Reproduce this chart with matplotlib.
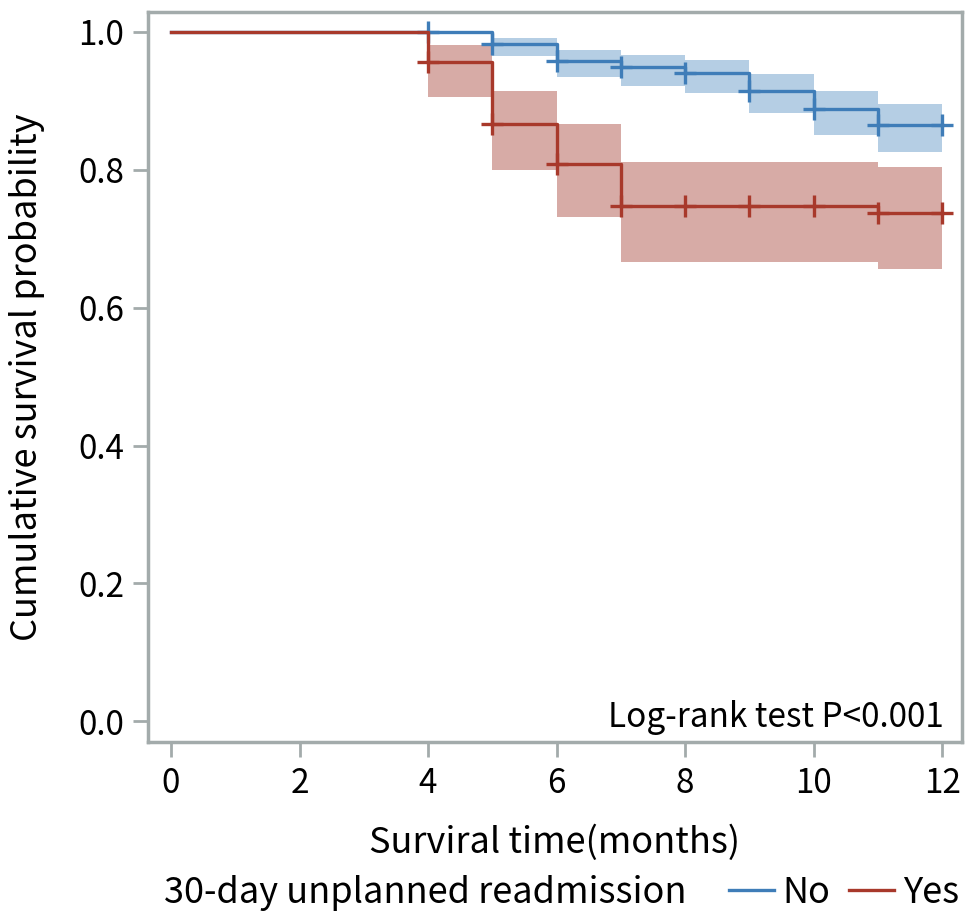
import numpy as np
import matplotlib
matplotlib.use("Agg")
import matplotlib.pyplot as plt
from matplotlib.lines import Line2D

plt.rcParams['font.family'] = ['Noto Sans CJK KR', 'DejaVu Sans']

# Data
times = [0, 4, 5, 6, 7, 8, 9, 10, 11, 12]
surv_no = [1.0, 1.0, 0.982, 0.958, 0.949, 0.941, 0.915, 0.888, 0.865, 0.865]
lo_no = [1.0, 1.0, 0.965, 0.935, 0.922, 0.912, 0.883, 0.851, 0.826, 0.826]
hi_no = [1.0, 1.0, 0.991, 0.974, 0.967, 0.959, 0.939, 0.915, 0.895, 0.895]

surv_yes = [1.0, 0.957, 0.867, 0.808, 0.747, 0.747, 0.747, 0.747, 0.738, 0.738]
lo_yes = [1.0, 0.906, 0.800, 0.732, 0.667, 0.667, 0.667, 0.667, 0.656, 0.656]
hi_yes = [1.0, 0.981, 0.915, 0.866, 0.812, 0.812, 0.812, 0.812, 0.804, 0.804]

censor_no = [4, 5, 6, 7, 8, 9, 10, 11, 12]
censor_yes = [4, 5, 6, 7, 8, 9, 10, 11, 12]

groups = ["No", "Yes"]
x_ticks = [0, 2, 4, 6, 8, 10, 12]
y_ticks = [0.0, 0.2, 0.4, 0.6, 0.8, 1.0]

blue = "#3f7db8"
red = "#a8392b"
blue_band = "#b5cee4"
red_band = "#d7aba6"
spine_col = "#a3abab"

W, H = 972, 924
fig = plt.figure(figsize=(W / 100, H / 100), dpi=100)
ax = fig.add_axes([148 / W, 1 - 742 / H, (962 - 148) / W, (742 - 12) / H])

def censor_vals(t_list, times, surv):
    idx = np.searchsorted(times, t_list, side='right') - 1
    return np.asarray(surv)[idx]

# bands
ax.fill_between(times, lo_no, hi_no, step='post', color=blue_band, lw=0, zorder=1)
ax.fill_between(times, lo_yes, hi_yes, step='post', color=red_band, lw=0, zorder=1)

# lines
ax.step(times, surv_no, where='post', color=blue, lw=2.4, zorder=3)
ax.plot(censor_no, censor_vals(censor_no, times, surv_no), ls='none', marker='+',
        ms=16, mew=2.4, color=blue, zorder=4)
ax.step(times, surv_yes, where='post', color=red, lw=2.4, zorder=5)
ax.plot(censor_yes, censor_vals(censor_yes, times, surv_yes), ls='none', marker='+',
        ms=16, mew=2.4, color=red, zorder=6)

ax.set_xlim(-0.358, 12.31)
ax.set_ylim(-0.030, 1.029)
ax.set_xticks(x_ticks)
ax.set_yticks(y_ticks)
ax.set_yticklabels([f"{v:.1f}" for v in y_ticks])
ax.tick_params(axis='both', direction='out', length=11, width=2, color=spine_col,
               labelsize=24, pad=6)
for s in ax.spines.values():
    s.set_color(spine_col)
    s.set_linewidth(2.5)

ax.set_xlabel("Surviral time(months)", fontsize=26, labelpad=17)
ax.set_ylabel("Cumulative survival probability", fontsize=26, labelpad=24)

ax.text(0.978, 0.033, "Log-rank test P<0.001", transform=ax.transAxes,
        ha='right', va='center', fontsize=24)

fig.text(164 / W, 1 - 893 / H, "30-day unplanned readmission", fontsize=26,
         ha='left', va='center')
handles = [Line2D([0], [0], color=blue, lw=2.4), Line2D([0], [0], color=red, lw=2.4)]
fig.legend(handles, groups, ncol=2, loc='center right',
           bbox_to_anchor=(959 / W, 1 - 893 / H),
           frameon=False, fontsize=26, handlelength=1.25, handletextpad=0.25,
           columnspacing=0.5, borderpad=0.0, borderaxespad=0.0)

fig.savefig("out.png", dpi=100)
